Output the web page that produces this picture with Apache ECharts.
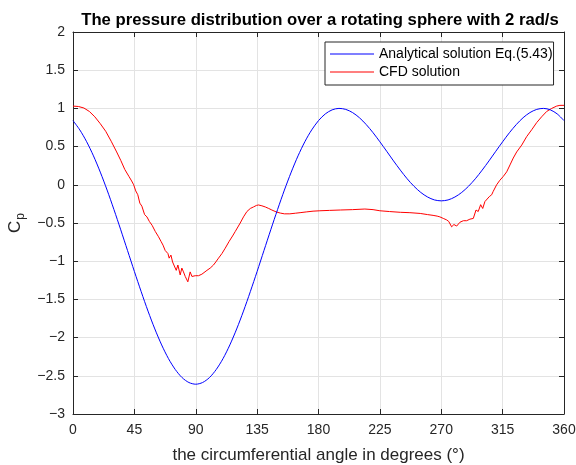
<!DOCTYPE html>
<html>
<head>
<meta charset="utf-8">
<script src="https://cdn.jsdelivr.net/npm/echarts@6/dist/echarts.min.js"></script>
<style>
  html, body { margin: 0; padding: 0; background: #fff; }
  #chart { width: 576px; height: 465px; }
</style>
</head>
<body>
<div id="chart"></div>
<script>
// analytical curve, read every 5 degrees
const exactAngle = [
  0, 5, 10, 15, 20, 25, 30, 35, 40, 45, 50, 55, 60, 65, 70, 75, 80, 85, 90,
  95, 100, 105, 110, 115, 120, 125, 130, 135, 140, 145, 150, 155, 160, 165, 170, 175, 180,
  185, 190, 195, 200, 205, 210, 215, 220, 225, 230, 235, 240, 245, 250, 255, 260, 265, 270,
  275, 280, 285, 290, 295, 300, 305, 310, 315, 320, 325, 330, 335, 340, 345, 350, 355, 360
];
const exactCp = [
  0.84, 0.718, 0.564, 0.379, 0.166, -0.069, -0.323, -0.589, -0.861, -1.134, -1.399, -1.653, -1.887, -2.096, -2.275, -2.418, -2.524, -2.588, -2.61,
  -2.588, -2.524, -2.418, -2.275, -2.096, -1.887, -1.653, -1.399, -1.134, -0.861, -0.589, -0.323, -0.069, 0.166, 0.379, 0.564, 0.718, 0.84,
  0.928, 0.981, 1.0, 0.987, 0.945, 0.878, 0.788, 0.682, 0.563, 0.439, 0.313, 0.192, 0.079, -0.019, -0.1, -0.16, -0.198, -0.21,
  -0.198, -0.16, -0.1, -0.019, 0.079, 0.192, 0.313, 0.439, 0.563, 0.682, 0.788, 0.878, 0.945, 0.987, 1.0, 0.981, 0.928, 0.84
];

// CFD curve (noisy)
const cfdAngle = [
  0, 4, 8, 12, 16, 20, 24, 28, 32, 35, 38, 41, 43, 44.5, 46, 47.5, 49, 50.5, 52.5, 54.2,
  56, 58, 60.3, 62.7, 64.5, 66, 67.6, 69.6, 70.5, 71.8, 73, 74.4, 75.7, 76.9, 78.6, 79.8,
  81, 82.3, 84.2, 85.9, 87.2, 89.6, 92, 94.5, 95.7, 98.2, 100.6, 103, 104.7, 106.7, 109.2, 111.6,
  114.5, 117, 119, 122.6, 125, 127.5, 130, 132.3, 134.5, 136, 138.5, 141, 143.5, 145.8, 149, 152,
  155, 159, 163, 166.5, 171, 176, 181, 188, 196, 205, 214, 220, 225, 232, 240, 247,
  254.6, 260, 264, 267, 269, 271.5, 274, 275.5, 277.6, 279.3, 281.3, 283.7, 286.2, 288.6, 291, 293.5,
  295.5, 297.1, 298.9, 300.4, 302, 303.3, 305.2, 307, 308, 310.6, 313, 315.5, 318, 320.4, 322.8, 325.3,
  329, 332.6, 336.3, 340, 343.6, 347.3, 351, 354.6, 357, 360
];
const cfdCp = [
  1.03, 1.025, 1.005, 0.96, 0.89, 0.8, 0.7, 0.57, 0.43, 0.32, 0.2, 0.11, 0.05, 0.0, -0.08, -0.13, -0.24, -0.28, -0.39, -0.42,
  -0.48, -0.53, -0.61, -0.68, -0.74, -0.79, -0.86, -0.9, -0.96, -0.92, -1.01, -1.03, -1.12, -1.05, -1.18, -1.09,
  -1.14, -1.2, -1.27, -1.14, -1.2, -1.19, -1.19, -1.17, -1.19, -1.12, -1.09, -1.05, -1.01, -0.96, -0.9, -0.83,
  -0.74, -0.67, -0.61, -0.5, -0.42, -0.35, -0.31, -0.29, -0.27, -0.264, -0.275, -0.29, -0.31, -0.33, -0.355, -0.37,
  -0.38, -0.38, -0.372, -0.365, -0.355, -0.345, -0.34, -0.335, -0.33, -0.325, -0.317, -0.325, -0.34, -0.35, -0.36, -0.365,
  -0.375, -0.39, -0.4, -0.41, -0.42, -0.44, -0.46, -0.48, -0.55, -0.52, -0.54, -0.49, -0.47, -0.47, -0.45, -0.44,
  -0.33, -0.35, -0.26, -0.31, -0.22, -0.24, -0.155, -0.13, -0.09, 0.0, 0.06, 0.11, 0.17, 0.26, 0.35, 0.43,
  0.52, 0.63, 0.72, 0.815, 0.89, 0.96, 1.0, 1.03, 1.04, 1.04
];

const seriesNames = ['Analytical solution Eq.(5.43)', 'CFD solution'];

const ink = '#262626';
const font = 'Liberation Sans, Arial, sans-serif';

const chart = echarts.init(document.getElementById('chart'), null, { renderer: 'canvas' });

const boxAxis = {
  axisLine: { show: true, onZero: false, lineStyle: { color: ink, width: 1 } },
  axisTick: { show: true, inside: true, length: 5, lineStyle: { color: ink } },
  axisLabel: { show: false },
  splitLine: { show: false }
};

// matlab prints a real minus sign
const tickText = v => String(v).replace('-', '\u2212');

const option = {
  animation: false,
  backgroundColor: '#fff',
  title: {
    text: 'The pressure distribution over a rotating sphere with 2 rad/s',
    left: 315,
    textAlign: 'center',
    top: 7,
    textStyle: { fontFamily: font, fontSize: 16.7, fontWeight: 'bold', color: '#000' }
  },
  legend: {
    orient: 'vertical',
    left: 325,
    top: 42,
    padding: [4, 1, 5, 5],
    itemGap: 2,
    itemWidth: 44,
    itemHeight: 1,
    icon: 'rect',
    backgroundColor: '#fff',
    borderColor: ink,
    borderWidth: 1,
    borderRadius: 0,
    textStyle: { fontFamily: font, fontSize: 14, color: '#000', lineHeight: 16 },
    data: seriesNames
  },
  grid: { left: 73, right: 12, top: 32, bottom: 51, containLabel: false, outerBoundsMode: 'none' },
  xAxis: [
    {
      type: 'value',
      min: 0, max: 360, interval: 45,
      name: 'the circumferential angle in degrees (°)',
      nameLocation: 'middle',
      nameGap: 33,
      nameTextStyle: { fontFamily: font, fontSize: 17, color: ink },
      axisLine: { show: true, onZero: false, lineStyle: { color: ink, width: 1 } },
      axisTick: { show: true, inside: true, length: 5, lineStyle: { color: ink } },
      axisLabel: { fontFamily: font, fontSize: 14, color: ink, margin: 9 },
      splitLine: { show: true, lineStyle: { color: '#e3e3e3', width: 1 } }
    },
    Object.assign({ type: 'value', position: 'top', min: 0, max: 360, interval: 45 }, boxAxis)
  ],
  yAxis: [
    {
      type: 'value',
      min: -3, max: 2, interval: 0.5,
      name: '{c|C}{p|p}',
      nameLocation: 'middle',
      nameGap: 32,
      nameRotate: 90,
      nameTextStyle: {
        fontFamily: font, color: ink,
        rich: {
          c: { fontFamily: font, fontSize: 17, color: ink },
          p: { fontFamily: font, fontSize: 12, color: ink, padding: [10, 0, 0, 1] }
        }
      },
      axisLine: { show: true, onZero: false, lineStyle: { color: ink, width: 1 } },
      axisTick: { show: true, inside: true, length: 5, lineStyle: { color: ink } },
      axisLabel: { fontFamily: font, fontSize: 14, color: ink, margin: 8, formatter: tickText },
      splitLine: { show: true, lineStyle: { color: '#e3e3e3', width: 1 } }
    },
    Object.assign({ type: 'value', position: 'right', min: -3, max: 2, interval: 0.5 }, boxAxis)
  ],
  series: [
    {
      name: seriesNames[0],
      type: 'line',
      data: exactAngle.map((a, i) => [a, exactCp[i]]),
      showSymbol: false,
      symbol: 'none',
      smooth: 0.3,
      lineStyle: { color: '#0000ff', width: 1 },
      itemStyle: { color: '#0000ff' },
      z: 3
    },
    {
      name: seriesNames[1],
      type: 'line',
      data: cfdAngle.map((a, i) => [a, cfdCp[i]]),
      showSymbol: false,
      symbol: 'none',
      lineStyle: { color: '#ff0000', width: 1 },
      itemStyle: { color: '#ff0000' },
      z: 2
    }
  ]
};

chart.setOption(option);
</script>
</body>
</html>
